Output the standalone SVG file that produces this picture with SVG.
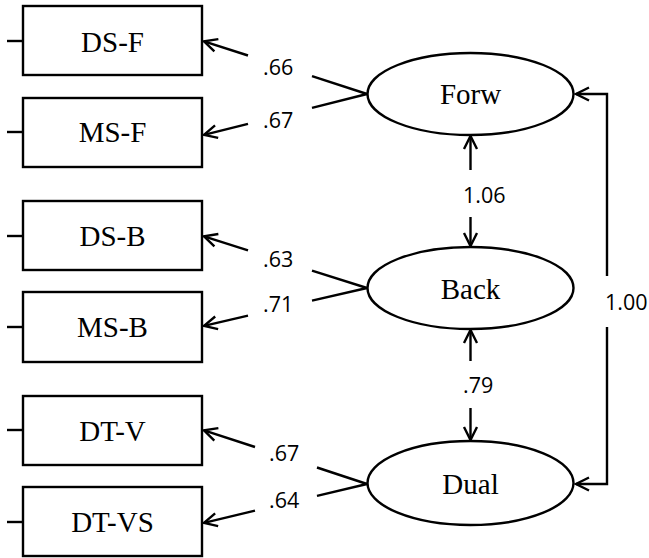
<svg xmlns="http://www.w3.org/2000/svg" width="649" height="558" viewBox="0 0 649 558">
<style>
.box{fill:#fff;stroke:#000;stroke-width:2.4}
.ell{fill:#fff;stroke:#000;stroke-width:2.4}
.ln{fill:none;stroke:#000;stroke-width:2.4}
.nt{font-family:"Liberation Serif","Times New Roman",serif;font-size:29px;fill:#000;text-anchor:middle}
.lb{font-family:"Open Sans","Liberation Sans",sans-serif;font-size:21.5px;fill:#000}
</style>
<defs>
<marker id="ah" markerUnits="userSpaceOnUse" orient="auto" markerWidth="30" markerHeight="30" viewBox="-15 -15 30 30" refX="0" refY="0" overflow="visible">
<path d="M-13,-6.5 L0,0 L-13,6.5" fill="none" stroke="#000" stroke-width="2.4"/>
</marker>
</defs>
<rect width="649" height="558" fill="#fff"/>
<g id="connectors">
<line class="ln" x1="7" y1="41" x2="23" y2="41"/>
<line class="ln" x1="7" y1="132" x2="23" y2="132"/>
<line class="ln" x1="7" y1="236" x2="23" y2="236"/>
<line class="ln" x1="7" y1="327" x2="23" y2="327"/>
<line class="ln" x1="7" y1="430" x2="23" y2="430"/>
<line class="ln" x1="7" y1="522" x2="23" y2="522"/>
<line class="ln" x1="367" y1="94" x2="312" y2="76.2"/>
<line class="ln" x1="248" y1="55.5" x2="204" y2="41.3" marker-end="url(#ah)"/>
<line class="ln" x1="367" y1="94" x2="312" y2="107.8"/>
<line class="ln" x1="248" y1="123.8" x2="204" y2="134.8" marker-end="url(#ah)"/>
<line class="ln" x1="367" y1="288" x2="312" y2="270.6"/>
<line class="ln" x1="248" y1="250.3" x2="204" y2="236.3" marker-end="url(#ah)"/>
<line class="ln" x1="367" y1="288" x2="312" y2="300.7"/>
<line class="ln" x1="248" y1="315.6" x2="204" y2="325.8" marker-end="url(#ah)"/>
<line class="ln" x1="367" y1="484" x2="317" y2="467.5"/>
<line class="ln" x1="255" y1="447" x2="204" y2="430.3" marker-end="url(#ah)"/>
<line class="ln" x1="367" y1="484" x2="317" y2="495.9"/>
<line class="ln" x1="255" y1="510.6" x2="204" y2="522.8" marker-end="url(#ah)"/>
<line class="ln" x1="470.5" y1="170" x2="470.5" y2="136" marker-end="url(#ah)"/>
<line class="ln" x1="470.5" y1="217" x2="470.5" y2="246" marker-end="url(#ah)"/>
<line class="ln" x1="470.5" y1="361" x2="470.5" y2="330" marker-end="url(#ah)"/>
<line class="ln" x1="470.5" y1="408" x2="470.5" y2="440" marker-end="url(#ah)"/>
<path class="ln" d="M607,276 L607,94 L576,94" marker-end="url(#ah)"/>
<path class="ln" d="M607,327 L607,484 L576,484" marker-end="url(#ah)"/>
<text class="lb" x="263" y="75">.66</text>
<text class="lb" x="263" y="128">.67</text>
<text class="lb" x="263" y="267">.63</text>
<text class="lb" x="263" y="312">.71</text>
<text class="lb" x="269" y="461">.67</text>
<text class="lb" x="269" y="508">.64</text>
<text class="lb" x="463" y="203">1.06</text>
<text class="lb" x="463" y="393">.79</text>
<text class="lb" x="605" y="310">1.00</text>
</g>
<g id="DS-F"><rect class="box" x="23" y="6" width="179" height="69"/><text class="nt" x="112.5" y="52">DS-F</text></g>
<g id="MS-F"><rect class="box" x="23" y="98" width="179" height="69"/><text class="nt" x="112.5" y="142">MS-F</text></g>
<g id="DS-B"><rect class="box" x="23" y="201" width="179" height="69"/><text class="nt" x="112.5" y="246">DS-B</text></g>
<g id="MS-B"><rect class="box" x="23" y="292" width="179" height="70"/><text class="nt" x="112.5" y="337">MS-B</text></g>
<g id="DT-V"><rect class="box" x="23" y="396" width="179" height="69"/><text class="nt" x="112.5" y="441">DT-V</text></g>
<g id="DT-VS"><rect class="box" x="23" y="487" width="179" height="69"/><text class="nt" x="112.5" y="532">DT-VS</text></g>
<g id="Forw"><ellipse class="ell" cx="470.5" cy="94" rx="103" ry="41"/><text class="nt" x="470.5" y="104">Forw</text></g>
<g id="Back"><ellipse class="ell" cx="470.5" cy="288" rx="103" ry="41"/><text class="nt" x="470.5" y="299">Back</text></g>
<g id="Dual"><ellipse class="ell" cx="470.5" cy="483" rx="103" ry="42"/><text class="nt" x="470.5" y="494">Dual</text></g>
</svg>
